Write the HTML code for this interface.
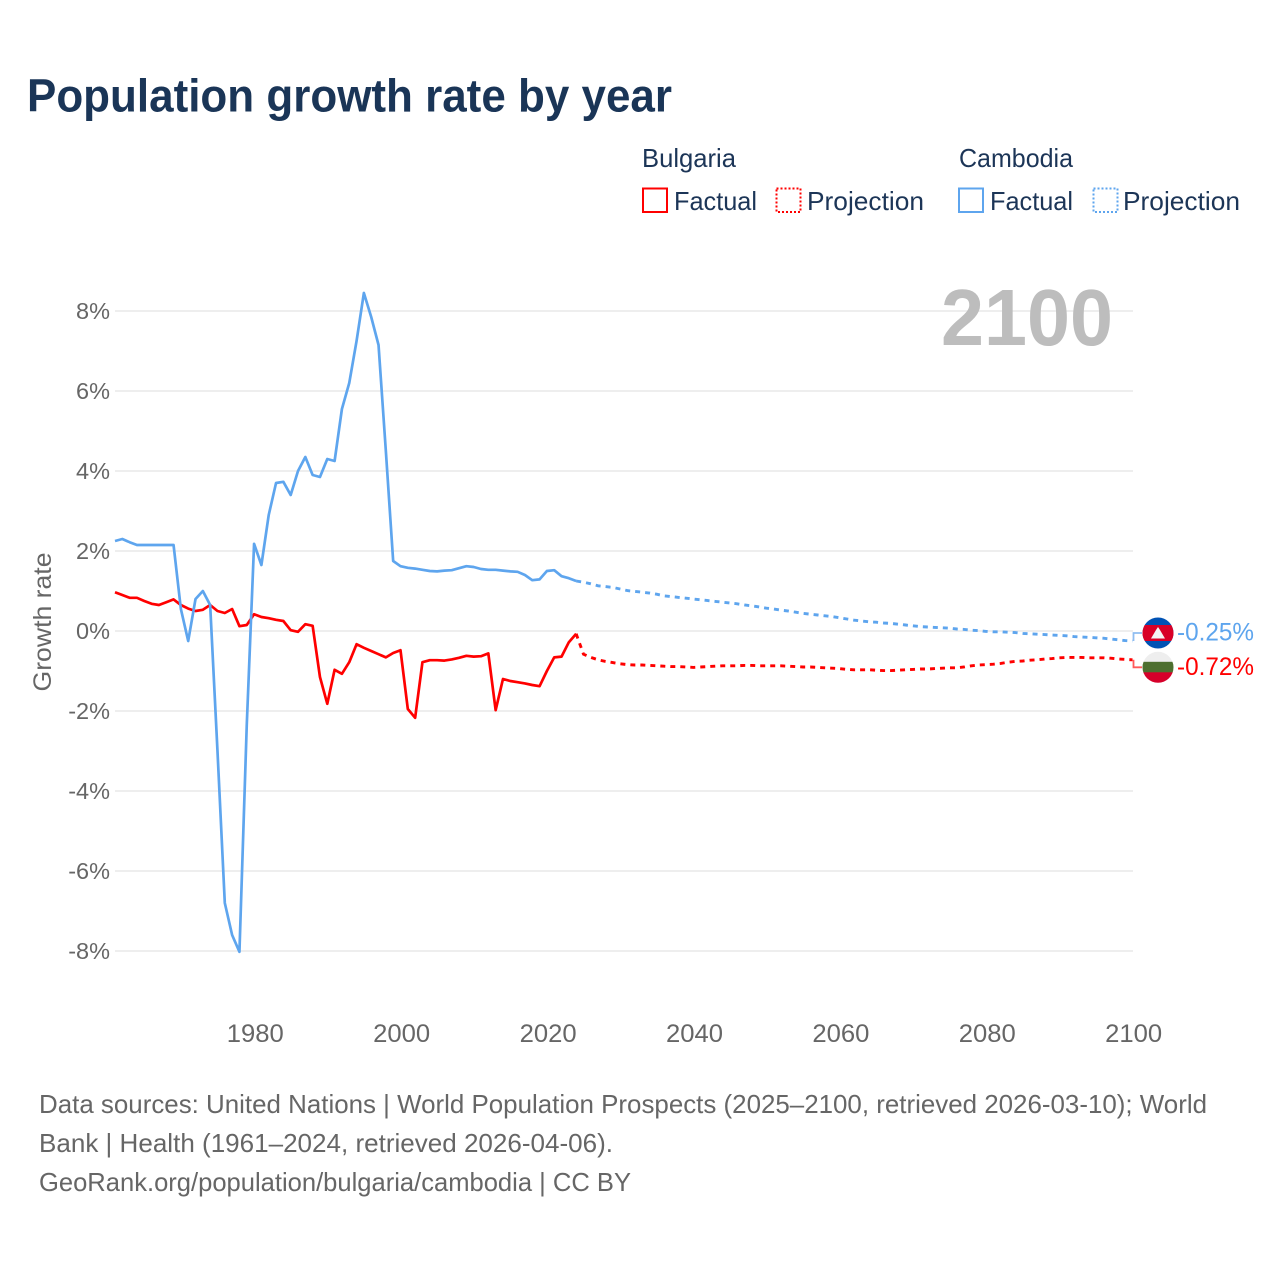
<!DOCTYPE html>
<html lang="en">
<head>
<meta charset="utf-8">
<title>Population growth rate by year</title>
<style>
html,body{margin:0;padding:0;background:#fff;}
svg{display:block;font-family:"Liberation Sans",Arial,sans-serif;}
</style>
</head>
<body>
<svg id="chart" width="1280" height="1280" viewBox="0 0 1280 1280" xmlns="http://www.w3.org/2000/svg">
  <rect x="0" y="0" width="1280" height="1280" fill="#fff"/>
  <text x="27" y="111.500" font-size="46" font-weight="700" fill="#1a3557" textLength="645" lengthAdjust="spacingAndGlyphs">Population growth rate by year</text>

  <g font-size="26" fill="#1c3557">
    <text x="642" y="167" textLength="94" lengthAdjust="spacingAndGlyphs">Bulgaria</text>
    <text x="959" y="167" textLength="114" lengthAdjust="spacingAndGlyphs">Cambodia</text>
    <rect x="643" y="188.500" width="24" height="23.500" fill="none" stroke="#ff0000" stroke-width="2"/>
    <text x="674" y="210" textLength="83" lengthAdjust="spacingAndGlyphs">Factual</text>
    <rect x="776.500" y="188.500" width="24" height="23.500" fill="none" stroke="#ff0000" stroke-width="2" stroke-dasharray="2 2"/>
    <text x="807" y="210" textLength="117" lengthAdjust="spacingAndGlyphs">Projection</text>
    <rect x="959" y="188.500" width="24" height="23.500" fill="none" stroke="#5ea5ee" stroke-width="2"/>
    <text x="990" y="210" textLength="83" lengthAdjust="spacingAndGlyphs">Factual</text>
    <rect x="1093.500" y="188.500" width="24" height="23.500" fill="none" stroke="#5ea5ee" stroke-width="2" stroke-dasharray="2 2"/>
    <text x="1123" y="210" textLength="117" lengthAdjust="spacingAndGlyphs">Projection</text>
  </g>

  <g id="grid"></g>
  <text x="941" y="345" font-size="80" font-weight="700" fill="#bdbdbd" textLength="172" lengthAdjust="spacingAndGlyphs">2100</text>
  <g id="yticks" font-size="23.500" fill="#666"></g>
  <g id="xticks" font-size="25" fill="#666"></g>
  <text transform="translate(51 622) rotate(-90)" text-anchor="middle" font-size="25" fill="#666" textLength="139" lengthAdjust="spacingAndGlyphs">Growth rate</text>
  <g id="series"></g>
  <g id="ends"></g>

  <g font-size="26" fill="#666">
    <text x="39" y="1113" textLength="1168" lengthAdjust="spacingAndGlyphs">Data sources: United Nations | World Population Prospects (2025–2100, retrieved 2026-03-10); World</text>
    <text x="39" y="1152" textLength="574" lengthAdjust="spacingAndGlyphs">Bank | Health (1961–2024, retrieved 2026-04-06).</text>
    <text x="39" y="1191" textLength="592" lengthAdjust="spacingAndGlyphs">GeoRank.org/population/bulgaria/cambodia | CC BY</text>
  </g>
</svg>
<script>
const firstYear = 1961;
const lastFactualYear = 2024;
const xTickYears = [1980, 2000, 2020, 2040, 2060, 2080, 2100];
const yTickValues = [8, 6, 4, 2, 0, -2, -4, -6, -8];

const cambodiaFactual = [2.25,2.3,2.22,2.15,2.15,2.15,2.15,2.15,2.15,0.55,-0.25,0.8,1.0,0.65,-3.0,-6.8,-7.6,-8.02,-2.35,2.18,1.65,2.9,3.7,3.73,3.4,4.0,4.35,3.9,3.85,4.3,4.25,5.55,6.2,7.25,8.45,7.85,7.15,4.5,1.75,1.62,1.58,1.56,1.53,1.5,1.49,1.51,1.52,1.57,1.62,1.6,1.55,1.53,1.53,1.51,1.49,1.48,1.4,1.27,1.29,1.5,1.52,1.37,1.32,1.25];

const cambodiaProjection = [1.22,1.18,1.13,1.11,1.09,1.05,1.01,0.99,0.97,0.95,0.92,0.88,0.86,0.84,0.82,0.80,0.78,0.76,0.74,0.72,0.70,0.68,0.65,0.63,0.60,0.57,0.55,0.52,0.50,0.47,0.44,0.42,0.40,0.38,0.36,0.33,0.30,0.27,0.25,0.23,0.22,0.20,0.19,0.17,0.15,0.13,0.11,0.10,0.09,0.08,0.07,0.05,0.04,0.02,0.01,-0.01,-0.02,-0.02,-0.03,-0.04,-0.06,-0.07,-0.08,-0.09,-0.10,-0.11,-0.12,-0.14,-0.15,-0.16,-0.17,-0.18,-0.20,-0.22,-0.24,-0.25];

const bulgariaFactual = [0.97,0.9,0.83,0.83,0.75,0.68,0.65,0.72,0.79,0.65,0.56,0.5,0.53,0.65,0.5,0.45,0.55,0.12,0.15,0.42,0.35,0.32,0.28,0.25,0.02,-0.02,0.17,0.13,-1.15,-1.82,-0.97,-1.07,-0.78,-0.33,-0.42,-0.5,-0.58,-0.66,-0.55,-0.48,-1.95,-2.17,-0.78,-0.73,-0.73,-0.74,-0.71,-0.67,-0.62,-0.64,-0.63,-0.56,-1.98,-1.2,-1.25,-1.28,-1.31,-1.35,-1.38,-1.0,-0.66,-0.64,-0.28,-0.07];

const bulgariaProjection = [-0.58,-0.66,-0.72,-0.76,-0.79,-0.82,-0.84,-0.85,-0.85,-0.86,-0.87,-0.88,-0.89,-0.89,-0.90,-0.91,-0.90,-0.89,-0.88,-0.87,-0.87,-0.87,-0.86,-0.86,-0.87,-0.87,-0.87,-0.87,-0.88,-0.89,-0.90,-0.90,-0.91,-0.92,-0.93,-0.94,-0.96,-0.97,-0.97,-0.97,-0.98,-0.99,-0.99,-0.98,-0.97,-0.96,-0.95,-0.95,-0.94,-0.93,-0.92,-0.92,-0.90,-0.87,-0.85,-0.84,-0.83,-0.81,-0.78,-0.76,-0.75,-0.73,-0.72,-0.70,-0.69,-0.67,-0.66,-0.66,-0.66,-0.67,-0.67,-0.67,-0.68,-0.70,-0.71,-0.72];

const NS = 'http://www.w3.org/2000/svg';
const BLUE = '#5ea5ee';
const RED = '#ff0000';
function xScale(year) { return 115 + (year - 1961) * (1132.5 - 115) / (2100 - 1961); }
function yScale(v) { return 631 - v * 40; }
function make(tag, attrs, parent) {
  const el = document.createElementNS(NS, tag);
  for (const k in attrs) el.setAttribute(k, attrs[k]);
  parent.appendChild(el);
  return el;
}
function linePoints(values, startYear) {
  return values.map(function (v, i) {
    return xScale(startYear + i).toFixed(2) + ',' + yScale(v).toFixed(2);
  }).join(' ');
}

const gridG = document.getElementById('grid');
const yTickG = document.getElementById('yticks');
yTickValues.forEach(function (v) {
  const gl = make('line', {x1: 115, x2: 1133, y1: yScale(v), y2: yScale(v), stroke: '#e9e9e9', 'stroke-width': 1.5}, gridG);
  
  
  const t = make('text', {x: 110, y: yScale(v) + 8, 'text-anchor': 'end'}, yTickG);
  
  
  t.textContent = v + '%';
});

const xTickG = document.getElementById('xticks');
xTickYears.forEach(function (yr) {
  const t = make('text', {x: xScale(yr) + 1.2, y: 1042, 'text-anchor': 'middle', textLength: 57, lengthAdjust: 'spacingAndGlyphs'}, xTickG);
  
  
  t.textContent = yr;
});

const seriesG = document.getElementById('series');
function drawSeries(name, color, factual, projection) {
  const solid = make('polyline', {points: linePoints(factual, firstYear), fill: 'none', stroke: color, 'stroke-width': 2.7, 'stroke-linejoin': 'round'}, seriesG);
  
  
  const joined = [factual[factual.length - 1]].concat(projection);
  const dashed = make('polyline', {points: linePoints(joined, lastFactualYear), fill: 'none', stroke: color, 'stroke-width': 2.9, 'stroke-dasharray': '5 5'}, seriesG);
  
  
}
drawSeries('bulgaria', RED, bulgariaFactual, bulgariaProjection);
drawSeries('cambodia', BLUE, cambodiaFactual, cambodiaProjection);

const endsG = document.getElementById('ends');
function drawEnd(name, color, connectorColor, value, offset, flagFn) {
  const ey = yScale(value);
  const ly = ey + offset;
  const conn = make('polyline', {points: '1133.5,' + ey + ' 1133.5,' + ly + ' 1142,' + ly, fill: 'none', stroke: connectorColor, 'stroke-width': 1.8}, endsG);
  
  
  const flag = make('g', {}, endsG);
  
  
  flagFn(flag, 1158, ly);
  const lab = make('text', {x: 1177, y: ly + 7.5, 'font-size': 25, fill: color, textLength: 77, lengthAdjust: 'spacingAndGlyphs'}, endsG);
  
  
  lab.textContent = value.toFixed(2) + '%';
}
function flagCambodia(g, cx, cy) {
  const id = 'clip-kh';
  const cp = make('clipPath', {id: id}, g);
  make('circle', {cx: cx, cy: cy, r: 15.5}, cp);
  make('rect', {x: cx - 16, y: cy - 16, width: 32, height: 32, fill: '#0052b4', 'clip-path': 'url(#' + id + ')'}, g);
  make('rect', {x: cx - 16, y: cy - 8, width: 32, height: 16, fill: '#d80027', 'clip-path': 'url(#' + id + ')'}, g);
  make('polygon', {points: (cx - 7) + ',' + (cy + 5.5) + ' ' + (cx - 2) + ',' + (cy - 3) + ' ' + cx + ',' + (cy - 6) + ' ' + (cx + 2) + ',' + (cy - 3) + ' ' + (cx + 7) + ',' + (cy + 5.5), fill: '#f4f4f4'}, g);
}
function flagBulgaria(g, cx, cy) {
  const id = 'clip-bg';
  const cp = make('clipPath', {id: id}, g);
  make('circle', {cx: cx, cy: cy, r: 15.5}, cp);
  make('rect', {x: cx - 16, y: cy - 16, width: 32, height: 11, fill: '#eeeeee', 'clip-path': 'url(#' + id + ')'}, g);
  make('rect', {x: cx - 16, y: cy - 5.500, width: 32, height: 11, fill: '#4d6f2f', 'clip-path': 'url(#' + id + ')'}, g);
  make('rect', {x: cx - 16, y: cy + 5, width: 32, height: 11, fill: '#d6002a', 'clip-path': 'url(#' + id + ')'}, g);
}
drawEnd('cambodia', BLUE, '#8fbdf0', cambodiaProjection[cambodiaProjection.length - 1], -8, flagCambodia);
drawEnd('bulgaria', RED, '#ff5a5a', bulgariaProjection[bulgariaProjection.length - 1], 7.5, flagBulgaria);
</script>
</body>
</html>
